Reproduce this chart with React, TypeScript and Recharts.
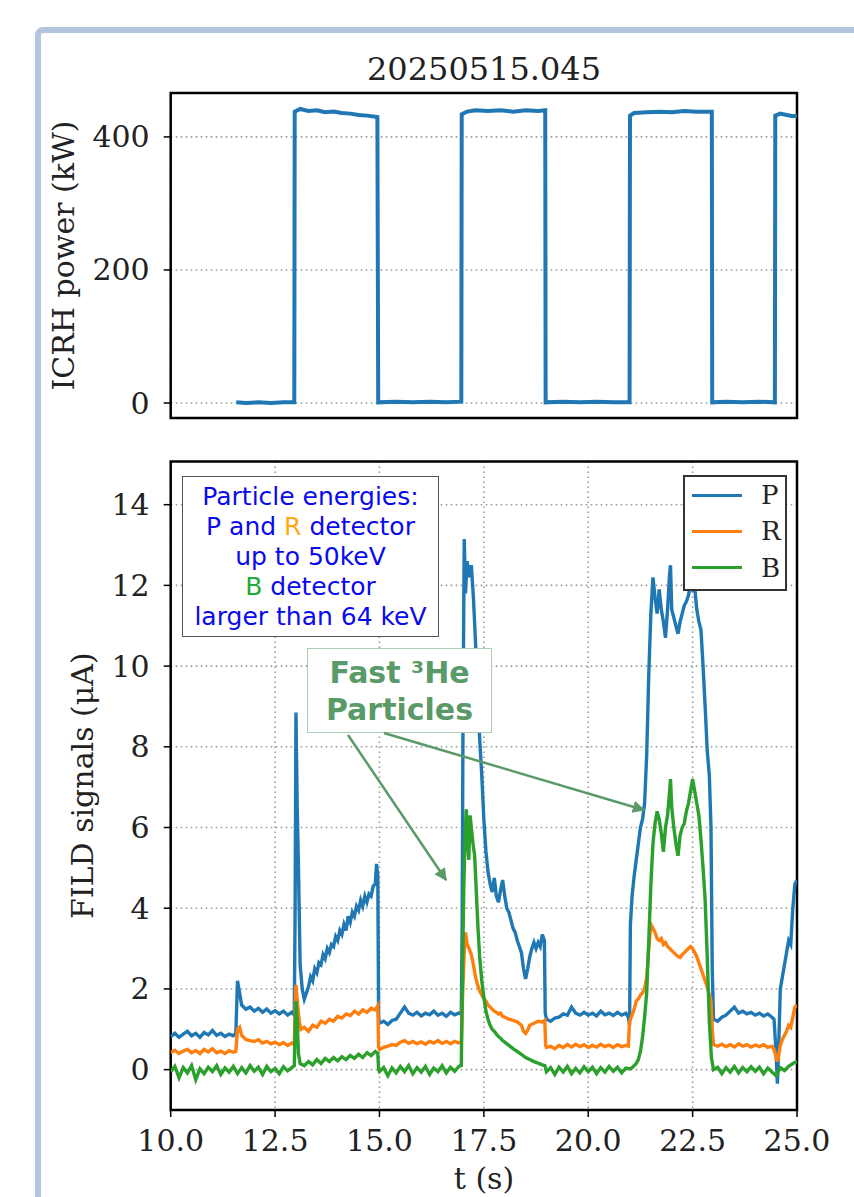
import React from "react";
import {
  LineChart,
  Line,
  XAxis,
  YAxis,
  CartesianGrid,
  ReferenceArea,
  Legend,
} from "recharts";

type Pt = [number, number];

const timeTicks = [10, 12.5, 15, 17.5, 20, 22.5, 25];
const powerTicks = [0, 200, 400];
const signalTicks = [0, 2, 4, 6, 8, 10, 12, 14];
const legendOrder = ["P", "R", "B"];

// ICRH power (kW) vs t (s)
const icrhPower: Pt[] = [
  [11.57, 1], [11.8, 0], [12.1, 1], [12.4, 0], [12.7, 1], [12.96, 1],
  [12.97, 438], [13.1, 442], [13.3, 439], [13.5, 440], [13.7, 437], [13.9, 438],
  [14.1, 436], [14.3, 435], [14.5, 433], [14.7, 432], [14.95, 430],
  [14.97, 1], [15.4, 2], [15.8, 1], [16.2, 2], [16.6, 1], [16.96, 2],
  [16.97, 434], [17.1, 438], [17.3, 440], [17.6, 439], [17.9, 440], [18.2, 438],
  [18.5, 440], [18.8, 439], [18.97, 440],
  [18.98, 1], [19.4, 2], [19.8, 1], [20.2, 2], [20.6, 1], [20.99, 1],
  [21.0, 432], [21.1, 436], [21.4, 437], [21.7, 438], [22.0, 437], [22.3, 439],
  [22.6, 438], [22.96, 438],
  [22.97, 1], [23.3, 2], [23.7, 1], [24.1, 2], [24.47, 1],
  [24.48, 432], [24.6, 435], [24.75, 433], [24.9, 431], [25.0, 432],
];

// FILD signals (uA) vs t (s)
const pSignal: Pt[] = [
  [10.0, 0.82], [10.1, 0.9], [10.2, 0.8], [10.3, 0.88], [10.4, 0.95], [10.5, 0.84],
  [10.6, 0.9], [10.7, 0.8], [10.8, 0.92], [10.9, 0.86], [11.0, 0.97], [11.1, 0.85],
  [11.2, 0.9], [11.3, 0.82], [11.4, 0.88], [11.5, 0.84], [11.56, 0.9], [11.6, 2.2],
  [11.65, 1.9], [11.7, 1.6], [11.8, 1.5], [11.9, 1.55], [12.0, 1.45], [12.1, 1.52],
  [12.2, 1.42], [12.3, 1.5], [12.4, 1.4], [12.5, 1.46], [12.6, 1.38], [12.7, 1.45],
  [12.8, 1.35], [12.9, 1.42], [12.96, 1.35], [12.98, 4.0], [13.0, 8.85], [13.03, 6.5],
  [13.06, 5.0], [13.1, 2.6], [13.15, 2.0], [13.2, 1.75], [13.25, 1.9], [13.3, 2.05],
  [13.35, 2.3], [13.4, 2.2], [13.45, 2.5], [13.5, 2.4], [13.55, 2.65], [13.6, 2.6],
  [13.65, 2.85], [13.7, 2.75], [13.75, 3.0], [13.8, 2.9], [13.85, 3.1], [13.9, 3.05],
  [13.95, 3.3], [14.0, 3.2], [14.05, 3.45], [14.1, 3.35], [14.15, 3.6], [14.2, 3.45],
  [14.25, 3.8], [14.3, 3.65], [14.35, 3.9], [14.4, 3.8], [14.45, 4.05], [14.5, 3.95],
  [14.55, 4.2], [14.6, 4.05], [14.65, 4.3], [14.7, 4.15], [14.75, 4.35], [14.8, 4.3],
  [14.85, 4.55], [14.9, 4.6], [14.93, 5.1], [14.96, 4.8], [14.98, 1.3], [15.0, 1.15],
  [15.1, 1.2], [15.2, 1.12], [15.3, 1.22], [15.4, 1.25], [15.5, 1.4], [15.6, 1.55],
  [15.7, 1.4], [15.8, 1.35], [15.9, 1.42], [16.0, 1.33], [16.1, 1.4], [16.2, 1.36],
  [16.3, 1.45], [16.4, 1.35], [16.5, 1.4], [16.6, 1.32], [16.7, 1.42], [16.8, 1.36],
  [16.9, 1.4], [16.96, 1.38], [16.98, 3.5], [17.0, 8.5], [17.03, 13.15], [17.06, 11.8],
  [17.1, 12.6], [17.15, 12.2], [17.2, 12.5], [17.25, 11.7], [17.3, 10.6], [17.35, 9.4],
  [17.4, 8.2], [17.45, 7.3], [17.5, 6.2], [17.55, 5.4], [17.6, 4.9], [17.65, 4.6],
  [17.7, 4.4], [17.75, 4.75], [17.8, 4.3], [17.85, 4.15], [17.9, 4.45], [17.95, 4.7],
  [18.0, 4.3], [18.05, 4.0], [18.1, 3.9], [18.15, 3.7], [18.2, 3.5], [18.25, 3.4],
  [18.3, 3.2], [18.35, 3.05], [18.4, 2.9], [18.45, 2.5], [18.5, 2.25], [18.55, 2.5],
  [18.6, 2.8], [18.65, 3.0], [18.7, 3.15], [18.75, 3.0], [18.8, 3.15], [18.85, 3.05],
  [18.9, 3.35], [18.95, 3.2], [18.97, 1.4], [19.0, 1.25], [19.1, 1.2], [19.2, 1.28],
  [19.3, 1.3], [19.4, 1.38], [19.5, 1.35], [19.6, 1.55], [19.7, 1.4], [19.8, 1.35],
  [19.9, 1.42], [20.0, 1.35], [20.1, 1.4], [20.2, 1.33], [20.3, 1.45], [20.4, 1.36],
  [20.5, 1.4], [20.6, 1.34], [20.7, 1.42], [20.8, 1.35], [20.9, 1.4], [20.96, 1.3],
  [20.99, 1.1], [21.01, 3.6], [21.05, 4.3], [21.1, 4.8], [21.15, 5.2], [21.2, 5.6],
  [21.25, 6.0], [21.3, 6.2], [21.35, 6.6], [21.4, 7.8], [21.45, 9.8], [21.5, 11.3],
  [21.55, 12.2], [21.6, 11.7], [21.65, 11.3], [21.7, 11.9], [21.75, 11.4], [21.8, 11.1],
  [21.85, 10.7], [21.9, 11.4], [21.95, 12.3], [21.97, 12.5], [22.0, 11.4], [22.05, 11.2],
  [22.1, 11.0], [22.15, 10.8], [22.2, 11.1], [22.25, 11.3], [22.3, 11.5], [22.35, 11.6],
  [22.4, 11.75], [22.45, 12.05], [22.5, 11.9], [22.55, 11.95], [22.6, 11.4], [22.65, 11.1],
  [22.7, 10.9], [22.75, 10.0], [22.8, 9.0], [22.85, 7.9], [22.9, 7.3], [22.94, 6.0],
  [22.97, 2.5], [23.0, 1.25], [23.1, 1.2], [23.2, 1.3], [23.3, 1.35], [23.4, 1.45],
  [23.5, 1.55], [23.6, 1.4], [23.7, 1.45], [23.8, 1.38], [23.9, 1.42], [24.0, 1.35],
  [24.1, 1.4], [24.2, 1.33], [24.3, 1.38], [24.4, 1.3], [24.45, 1.25], [24.5, 0.4],
  [24.53, -0.35], [24.56, 0.5], [24.6, 2.0], [24.65, 2.3], [24.7, 2.6], [24.75, 2.9],
  [24.8, 3.2], [24.85, 3.1], [24.9, 4.0], [24.95, 4.6], [25.0, 4.7],
];

const rSignal: Pt[] = [
  [10.0, 0.42], [10.1, 0.48], [10.2, 0.4], [10.3, 0.46], [10.4, 0.5], [10.5, 0.42],
  [10.6, 0.47], [10.7, 0.4], [10.8, 0.5], [10.9, 0.44], [11.0, 0.52], [11.1, 0.42],
  [11.2, 0.46], [11.3, 0.4], [11.4, 0.47], [11.5, 0.43], [11.56, 0.45], [11.6, 1.0],
  [11.65, 1.05], [11.7, 0.85], [11.8, 0.75], [11.9, 0.72], [12.0, 0.7], [12.1, 0.74],
  [12.2, 0.66], [12.3, 0.7], [12.4, 0.64], [12.5, 0.68], [12.6, 0.62], [12.7, 0.67],
  [12.8, 0.6], [12.9, 0.66], [12.96, 0.62], [12.98, 1.5], [13.0, 2.1], [13.04, 1.6],
  [13.08, 1.2], [13.12, 1.0], [13.2, 1.05], [13.3, 0.95], [13.4, 1.1], [13.5, 1.05],
  [13.6, 1.2], [13.7, 1.15], [13.8, 1.25], [13.9, 1.2], [14.0, 1.32], [14.1, 1.28],
  [14.2, 1.38], [14.3, 1.34], [14.4, 1.45], [14.5, 1.38], [14.6, 1.48], [14.7, 1.42],
  [14.8, 1.52], [14.9, 1.48], [14.96, 1.58], [14.98, 0.55], [15.0, 0.5], [15.1, 0.55],
  [15.2, 0.58], [15.3, 0.62], [15.4, 0.6], [15.5, 0.68], [15.6, 0.72], [15.7, 0.65],
  [15.8, 0.7], [15.9, 0.64], [16.0, 0.69], [16.1, 0.63], [16.2, 0.7], [16.3, 0.66],
  [16.4, 0.72], [16.5, 0.65], [16.6, 0.7], [16.7, 0.64], [16.8, 0.7], [16.9, 0.66],
  [16.96, 0.68], [16.99, 1.8], [17.03, 2.9], [17.06, 3.4], [17.1, 3.1], [17.15, 3.0],
  [17.2, 2.85], [17.25, 2.6], [17.3, 2.3], [17.35, 2.1], [17.4, 1.95], [17.45, 1.85],
  [17.5, 1.75], [17.55, 1.7], [17.6, 1.6], [17.65, 1.55], [17.7, 1.5], [17.75, 1.45],
  [17.8, 1.42], [17.85, 1.38], [17.9, 1.4], [17.95, 1.32], [18.0, 1.3], [18.1, 1.25],
  [18.2, 1.22], [18.3, 1.18], [18.4, 1.1], [18.45, 0.95], [18.5, 0.9], [18.55, 0.98],
  [18.6, 1.1], [18.7, 1.15], [18.8, 1.2], [18.9, 1.18], [18.96, 1.22], [18.98, 0.6],
  [19.0, 0.55], [19.1, 0.58], [19.2, 0.52], [19.3, 0.6], [19.4, 0.55], [19.5, 0.62],
  [19.6, 0.56], [19.7, 0.63], [19.8, 0.57], [19.9, 0.62], [20.0, 0.55], [20.1, 0.6],
  [20.2, 0.56], [20.3, 0.63], [20.4, 0.57], [20.5, 0.61], [20.6, 0.55], [20.7, 0.62],
  [20.8, 0.57], [20.9, 0.6], [20.96, 0.58], [20.99, 1.2], [21.05, 1.35], [21.1, 1.5],
  [21.15, 1.7], [21.2, 1.75], [21.25, 1.85], [21.3, 1.9], [21.35, 2.0], [21.4, 2.3],
  [21.45, 3.0], [21.5, 3.6], [21.55, 3.5], [21.6, 3.4], [21.65, 3.25], [21.7, 3.2],
  [21.75, 3.25], [21.8, 3.1], [21.85, 3.15], [21.9, 3.05], [21.95, 3.0], [22.0, 2.95],
  [22.05, 2.9], [22.1, 2.85], [22.15, 2.8], [22.2, 2.78], [22.25, 2.85], [22.3, 2.9],
  [22.35, 2.95], [22.4, 3.0], [22.45, 3.05], [22.5, 3.0], [22.55, 2.9], [22.6, 2.8],
  [22.65, 2.65], [22.7, 2.5], [22.75, 2.35], [22.8, 2.2], [22.85, 2.05], [22.9, 1.85],
  [22.94, 1.7], [22.97, 1.0], [23.0, 0.62], [23.1, 0.58], [23.2, 0.63], [23.3, 0.57],
  [23.4, 0.62], [23.5, 0.56], [23.6, 0.64], [23.7, 0.58], [23.8, 0.62], [23.9, 0.56],
  [24.0, 0.61], [24.1, 0.57], [24.2, 0.62], [24.3, 0.55], [24.4, 0.58], [24.45, 0.5],
  [24.5, 0.3], [24.53, 0.2], [24.56, 0.35], [24.6, 0.6], [24.65, 0.75], [24.7, 0.85],
  [24.75, 0.95], [24.8, 1.1], [24.85, 1.05], [24.9, 1.3], [24.95, 1.55], [25.0, 1.6],
];

const bSignal: Pt[] = [
  [10.0, -0.05], [10.1, 0.08], [10.2, -0.2], [10.3, 0.05], [10.4, -0.08], [10.5, 0.1],
  [10.6, -0.25], [10.7, 0.02], [10.8, -0.1], [10.9, 0.06], [11.0, -0.05], [11.1, 0.1],
  [11.2, -0.12], [11.3, 0.04], [11.4, -0.06], [11.5, 0.08], [11.6, -0.1], [11.7, 0.05],
  [11.8, -0.08], [11.9, 0.1], [12.0, -0.04], [12.1, 0.06], [12.2, -0.12], [12.3, 0.08],
  [12.4, -0.05], [12.5, 0.03], [12.6, -0.1], [12.7, 0.07], [12.8, -0.03], [12.9, 0.05],
  [12.96, 0.1], [12.98, 1.0], [13.0, 1.7], [13.03, 1.2], [13.06, 0.4], [13.1, 0.15],
  [13.2, 0.1], [13.3, 0.2], [13.4, 0.12], [13.5, 0.25], [13.6, 0.15], [13.7, 0.28],
  [13.8, 0.2], [13.9, 0.3], [14.0, 0.22], [14.1, 0.32], [14.2, 0.25], [14.3, 0.35],
  [14.4, 0.28], [14.5, 0.38], [14.6, 0.3], [14.7, 0.42], [14.8, 0.35], [14.9, 0.45],
  [14.96, 0.4], [14.98, 0.0], [15.0, -0.05], [15.1, 0.05], [15.2, -0.15], [15.3, 0.04],
  [15.4, -0.08], [15.5, 0.08], [15.6, -0.05], [15.7, 0.1], [15.8, -0.1], [15.9, 0.05],
  [16.0, -0.06], [16.1, 0.08], [16.2, -0.12], [16.3, 0.04], [16.4, -0.05], [16.5, 0.1],
  [16.6, -0.08], [16.7, 0.06], [16.8, -0.04], [16.9, 0.08], [16.96, 0.1], [16.99, 2.5],
  [17.02, 4.5], [17.05, 5.8], [17.08, 6.45], [17.11, 5.6], [17.14, 5.2], [17.17, 6.3],
  [17.2, 6.0], [17.24, 5.6], [17.28, 5.3], [17.32, 4.4], [17.36, 3.5], [17.4, 2.8],
  [17.45, 2.2], [17.5, 1.8], [17.55, 1.45], [17.6, 1.25], [17.65, 1.1], [17.7, 1.0],
  [17.75, 0.95], [17.8, 0.88], [17.85, 0.82], [17.9, 0.78], [17.95, 0.72], [18.0, 0.68],
  [18.1, 0.6], [18.2, 0.52], [18.3, 0.45], [18.4, 0.38], [18.5, 0.3], [18.6, 0.25],
  [18.7, 0.2], [18.8, 0.16], [18.9, 0.12], [18.96, 0.1], [19.0, -0.05], [19.1, 0.05],
  [19.2, -0.12], [19.3, 0.06], [19.4, -0.06], [19.5, 0.08], [19.6, -0.1], [19.7, 0.03],
  [19.8, -0.08], [19.9, 0.07], [20.0, -0.05], [20.1, 0.06], [20.2, -0.1], [20.3, 0.05],
  [20.4, -0.06], [20.5, 0.08], [20.6, -0.04], [20.7, 0.06], [20.8, -0.08], [20.9, 0.04],
  [21.0, 0.02], [21.05, 0.05], [21.1, 0.1], [21.15, 0.15], [21.2, 0.25], [21.25, 0.45],
  [21.3, 0.8], [21.35, 1.3], [21.4, 1.9], [21.45, 3.2], [21.5, 4.6], [21.55, 5.6],
  [21.6, 6.1], [21.65, 6.4], [21.7, 6.2], [21.75, 5.85], [21.8, 5.4], [21.85, 6.0],
  [21.9, 6.3], [21.95, 6.9], [21.97, 7.2], [22.0, 6.5], [22.05, 6.0], [22.1, 5.6],
  [22.15, 5.3], [22.2, 5.8], [22.25, 6.0], [22.3, 6.1], [22.35, 6.4], [22.4, 6.6],
  [22.45, 6.9], [22.5, 7.2], [22.55, 6.9], [22.6, 6.6], [22.65, 6.3], [22.7, 5.7],
  [22.75, 5.0], [22.8, 4.2], [22.85, 2.8], [22.9, 1.2], [22.95, 0.3], [23.0, 0.0],
  [23.1, 0.06], [23.2, -0.1], [23.3, 0.05], [23.4, -0.06], [23.5, 0.08], [23.6, -0.08],
  [23.7, 0.05], [23.8, -0.05], [23.9, 0.07], [24.0, -0.04], [24.1, 0.06], [24.2, -0.1],
  [24.3, 0.04], [24.4, -0.06], [24.5, -0.15], [24.55, -0.05], [24.6, 0.05], [24.7, -0.02],
  [24.8, 0.08], [24.9, 0.15], [25.0, 0.2],
];

const toRows = (pts: Pt[]) => pts.map(([t, v]) => ({ t, v }));

const SERIF = "'DejaVu Serif', serif";
const SANS = "'DejaVu Sans', sans-serif";
const GRID = "#9a9a9a";
const P_COLOR = "#1f77b4";
const R_COLOR = "#ff7f0e";
const B_COLOR = "#2ca02c";
const NOTE_GREEN = "#5a9a68";

const PLOT_LEFT = 170.7;
const RIGHT_GAP = 57;

function YTick({ x, y, payload }: any) {
  return (
    <text x={x} y={y} textAnchor="end" dominantBaseline="central" fontFamily={SERIF} fontSize={30} fill="#222">
      {payload.value}
    </text>
  );
}

function XTick({ x, y, payload }: any) {
  return (
    <text x={x} y={y} textAnchor="middle" dominantBaseline="central" fontFamily={SERIF} fontSize={30} fill="#222">
      {Number(payload.value).toFixed(1)}
    </text>
  );
}

function SignalLegend({ payload }: any) {
  const items = [...(payload || [])].sort(
    (a: any, b: any) => legendOrder.indexOf(a.value) - legendOrder.indexOf(b.value)
  );
  return (
    <div
      style={{
        width: 104,
        height: 116,
        boxSizing: "border-box",
        border: "2px solid #333",
        background: "#fff",
        fontFamily: SERIF,
        fontSize: 26,
        color: "#222",
      }}
    >
      {items.map((e: any) => (
        <div key={e.value} style={{ display: "flex", alignItems: "center", height: 36.3 }}>
          <span style={{ display: "inline-block", width: 50, height: 3, background: e.color, marginLeft: 7 }} />
          <span style={{ marginLeft: 19, lineHeight: 1 }}>{e.value}</span>
        </div>
      ))}
    </div>
  );
}

export default function App() {
  const tickLine = { stroke: "#000", strokeWidth: 1.5 };
  return (
    <div
      style={{
        position: "absolute",
        left: 0,
        top: 0,
        width: 854,
        height: 1197,
        overflow: "hidden",
        background: "#fff",
      }}
    >
      {/* surrounding slide frame */}
      <div
        style={{
          position: "absolute",
          left: 35,
          top: 27,
          width: 1000,
          height: 1400,
          border: "6px solid #b4c6dd",
          borderRadius: 8,
          boxSizing: "border-box",
        }}
      />

      <div style={{ position: "absolute", left: 0, top: 0 }}>
        <LineChart width={854} height={440} margin={{ top: 93, right: RIGHT_GAP, left: 0, bottom: 0 }}>
          <CartesianGrid stroke={GRID} strokeDasharray="1.6 3.4" strokeWidth={1.6} />
          <XAxis
            dataKey="t"
            type="number"
            domain={[10, 25]}
            ticks={timeTicks}
            allowDataOverflow
            height={22}
            axisLine={false}
            tickLine={tickLine}
            tickSize={7}
            tick={false}
          />
          <YAxis
            type="number"
            domain={[-22.5, 466]}
            ticks={powerTicks}
            allowDataOverflow
            width={PLOT_LEFT}
            axisLine={false}
            tickLine={tickLine}
            tickSize={7}
            tickMargin={14}
            tick={<YTick />}
          />
          <Line
            data={toRows(icrhPower)}
            dataKey="v"
            stroke={P_COLOR}
            strokeWidth={4}
            dot={false}
            isAnimationActive={false}
          />
          <ReferenceArea
            x1={10}
            x2={25}
            y1={-22.5}
            y2={466}
            fill="none"
            stroke="#000"
            strokeWidth={2.5}
            ifOverflow="visible"
          />
        </LineChart>
      </div>

      <div style={{ position: "absolute", left: 0, top: 0 }}>
        <LineChart width={854} height={1197} margin={{ top: 461.5, right: RIGHT_GAP, left: 0, bottom: 0 }}>
          <CartesianGrid stroke={GRID} strokeDasharray="1.6 3.4" strokeWidth={1.6} />
          <XAxis
            dataKey="t"
            type="number"
            domain={[10, 25]}
            ticks={timeTicks}
            allowDataOverflow
            height={87}
            axisLine={false}
            tickLine={tickLine}
            tickSize={7}
            tickMargin={23}
            tick={<XTick />}
          />
          <YAxis
            type="number"
            domain={[-1, 15.07]}
            ticks={signalTicks}
            allowDataOverflow
            width={PLOT_LEFT}
            axisLine={false}
            tickLine={tickLine}
            tickSize={7}
            tickMargin={14}
            tick={<YTick />}
          />
          <Line data={toRows(pSignal)} name="P" dataKey="v" stroke={P_COLOR} strokeWidth={3.4} dot={false} isAnimationActive={false} />
          <Line data={toRows(rSignal)} name="R" dataKey="v" stroke={R_COLOR} strokeWidth={3.4} dot={false} isAnimationActive={false} />
          <Line data={toRows(bSignal)} name="B" dataKey="v" stroke={B_COLOR} strokeWidth={3.4} dot={false} isAnimationActive={false} />
          <ReferenceArea
            x1={10}
            x2={25}
            y1={-1}
            y2={15.07}
            fill="none"
            stroke="#000"
            strokeWidth={2.5}
            ifOverflow="visible"
          />
          <Legend
            layout="vertical"
            align="center"
            verticalAlign="middle"
            content={<SignalLegend />}
            wrapperStyle={{ left: 683, top: 475, width: 104, height: 116 }}
          />
        </LineChart>
      </div>

      {/* text annotation boxes */}
      <div
        style={{
          position: "absolute",
          left: 182,
          top: 476,
          width: 257,
          height: 161,
          boxSizing: "border-box",
          border: "1.5px solid #555",
          background: "#fff",
          fontFamily: SANS,
          fontSize: 25,
          lineHeight: "30px",
          color: "#0a0aee",
          textAlign: "center",
          paddingTop: 5,
        }}
      >
        <div>Particle energies:</div>
        <div>
          P and <span style={{ color: "#ffa91a" }}>R</span> detector
        </div>
        <div>up to 50keV</div>
        <div>
          <span style={{ color: "#22aa3c" }}>B</span> detector
        </div>
        <div>larger than 64 keV</div>
      </div>

      <div
        style={{
          position: "absolute",
          left: 307,
          top: 648,
          width: 185,
          height: 85,
          boxSizing: "border-box",
          border: "1.5px solid #a9cfb3",
          background: "#fff",
          fontFamily: SANS,
          fontWeight: "bold",
          fontSize: 30,
          lineHeight: "37px",
          color: NOTE_GREEN,
          textAlign: "center",
          paddingTop: 5,
        }}
      >
        <div>Fast ³He</div>
        <div>Particles</div>
      </div>

      {/* titles, axis labels and arrows */}
      <svg width={854} height={1197} style={{ position: "absolute", left: 0, top: 0, pointerEvents: "none" }}>
        <defs>
          <marker id="head" viewBox="0 0 10 10" refX="9" refY="5" markerWidth="5" markerHeight="5" orient="auto">
            <path d="M0,0 L10,5 L0,10 z" fill={NOTE_GREEN} />
          </marker>
        </defs>
        <text x={484} y={69} textAnchor="middle" dominantBaseline="central" fontFamily={SERIF} fontSize={32} fill="#222">
          20250515.045
        </text>
        <text
          x={63}
          y={255.5}
          transform="rotate(-90, 63, 255.5)"
          textAnchor="middle"
          dominantBaseline="central"
          fontFamily={SERIF}
          fontSize={30}
          fill="#222"
        >
          ICRH power (kW)
        </text>
        <text
          x={83}
          y={785.7}
          transform="rotate(-90, 83, 785.7)"
          textAnchor="middle"
          dominantBaseline="central"
          fontFamily={SERIF}
          fontSize={30}
          fill="#222"
        >
          FILD signals (μA)
        </text>
        <text x={484} y={1178} textAnchor="middle" dominantBaseline="central" fontFamily={SERIF} fontSize={30} fill="#222">
          t (s)
        </text>
        <line x1={348} y1={735} x2={446} y2={880} stroke={NOTE_GREEN} strokeWidth={2.5} markerEnd="url(#head)" />
        <line x1={384} y1={733} x2={644} y2={810} stroke={NOTE_GREEN} strokeWidth={2.5} markerEnd="url(#head)" />
      </svg>
    </div>
  );
}
